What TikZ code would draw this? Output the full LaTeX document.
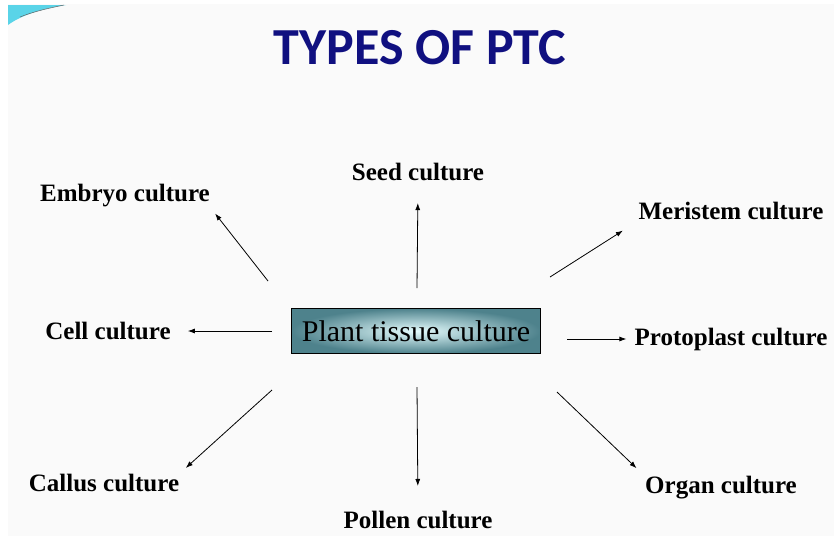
\documentclass[tikz,border=0pt]{standalone}
\usepackage{fontspec}
\setmainfont{Liberation Serif}
\newfontfamily\titlefont{Carlito}
\usetikzlibrary{positioning, arrows.meta}
\definecolor{titleblue}{RGB}{16,16,128}
\definecolor{boxedge}{RGB}{78,130,140}
\definecolor{boxmid}{RGB}{228,252,253}
\definecolor{cornercyan}{RGB}{90,212,232}

\begin{document}
\begin{tikzpicture}[x=1pt,y=-1pt,
    % Define a custom style for the labels
    typenode/.style={
        font=\bfseries\fontsize{25}{27}\selectfont,
        inner sep=2pt
    },
    % style for the central box
    ptcbox/.style={
        draw,
        line width=1.3pt,
        rectangle,
        minimum width=249pt,
        minimum height=45pt,
        inner color=boxmid,
        outer color=boxedge,
        font=\fontsize{30}{32}\selectfont
    },
    arr/.style={->, >={Latex[length=7pt,width=5pt]}, line width=0.8pt}
]
\useasboundingbox (0,0) rectangle (834,536);
\fill[white] (0,0) rectangle (834,536);
\fill[gray!4] (8,4) rectangle (834,536);

% corner decoration
\fill[cornercyan] (8,5) -- (66,5) .. controls (40,9) and (20,16) .. (8,25) -- cycle;
\draw[black!60, line width=0.5pt] (20,17) .. controls (35,11) and (50,8) .. (64,5);

% title
\node[font=\titlefont\bfseries\fontsize{52}{56}\selectfont, text=titleblue] (title) at (420,48) {TYPES OF PTC};

% central node
\node[ptcbox] (ptc) at (416,331) {Plant tissue culture};

% the culture types
\node[typenode] (seed) at (418,172) {Seed culture};
\node[typenode] (embryo) at (125,196) {Embryo culture};
\node[typenode] (meristem) at (731,211) {Meristem culture};
\node[typenode] (cell) at (108,331) {Cell culture};
\node[typenode] (protoplast) at (731,339) {Protoplast culture};
\node[typenode] (callus) at (104,483) {Callus culture};
\node[typenode] (pollen) at (418,520) {Pollen culture};
\node[typenode] (organ) at (721,488) {Organ culture};

% arrow tails near the box
\coordinate (tseed) at (417,288);
\coordinate (tembryo) at (268,281);
\coordinate (tmeristem) at (550,277);
\coordinate (tcell) at (272,331);
\coordinate (tprotoplast) at (567,339);
\coordinate (tcallus) at (272,390);
\coordinate (tpollen) at (417,387);
\coordinate (torgan) at (557,392);

% arrows
\draw[arr, shorten >=20pt] (tseed) -- (seed.south);
\draw[arr, shorten >=5pt] (tembryo) -- (embryo.south east);
\draw[arr, shorten >=16pt] (tmeristem) -- (meristem.south west);
\draw[arr, shorten >=15pt] (tcell) -- (cell.east);
\draw[arr, shorten >=6pt] (tprotoplast) -- (protoplast.west);
\draw[arr, shorten >=6pt] (tcallus) -- (callus.north east);
\draw[arr, shorten >=23pt] (tpollen) -- (pollen.north);
\draw[arr, shorten >=9pt] (torgan) -- (organ.north west);

\end{tikzpicture}
\end{document}
